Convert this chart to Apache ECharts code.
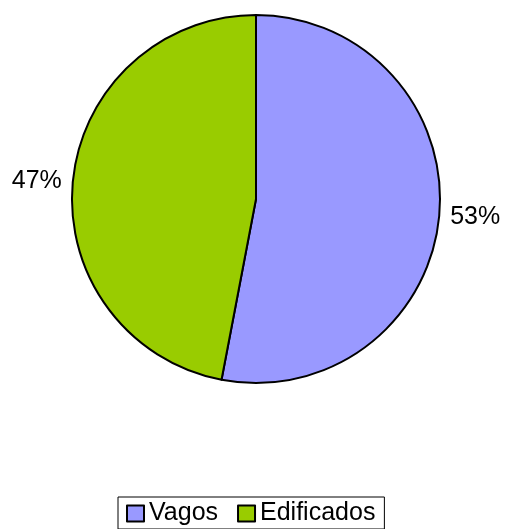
<!DOCTYPE html>
<html>
<head>
<meta charset="utf-8">
<script src="https://cdn.jsdelivr.net/npm/echarts@6/dist/echarts.min.js"></script>
<style>
html, body { margin: 0; padding: 0; background: #fff; }
#chart { width: 505px; height: 529px; }
</style>
</head>
<body>
<div id="chart"></div>
<script>
let categories = ['Vagos', 'Edificados'];
let values = [53, 47];
let colors = ['#9999FF', '#99CC00'];

let chart = echarts.init(document.getElementById('chart'));
let option = {
	animation: false,
	textStyle: { fontFamily: 'Liberation Sans, Arial, sans-serif' },
	legend: {
		bottom: 0,
		left: 118,
		orient: 'horizontal',
		borderColor: '#000',
		borderWidth: 1,
		padding: [4, 9, 3, 8],
		itemGap: 19,
		itemWidth: 17,
		itemHeight: 16,
		icon: 'rect',
		itemStyle: { borderColor: '#000', borderWidth: 2 },
		textStyle: { fontSize: 25, color: '#000', fontFamily: 'Liberation Sans, Arial, sans-serif' },
		data: categories
	},
	series: [{
		type: 'pie',
		center: [256, 199],
		radius: [0, 184],
		startAngle: 90,
		clockwise: true,
		itemStyle: { borderColor: '#000', borderWidth: 2 },
		label: {
			show: true,
			position: 'outside',
			formatter: '{d}%',
			fontSize: 25,
			color: '#000',
			overflow: 'none',
			fontFamily: 'Liberation Sans, Arial, sans-serif'
		},
		labelLine: { show: false, length: 6, length2: 0 },
		emphasis: { disabled: true },
		data: categories.map((name, i) => ({
			name: name,
			value: values[i],
			itemStyle: { color: colors[i] }
		}))
	}]
};
chart.setOption(option);
</script>
</body>
</html>
